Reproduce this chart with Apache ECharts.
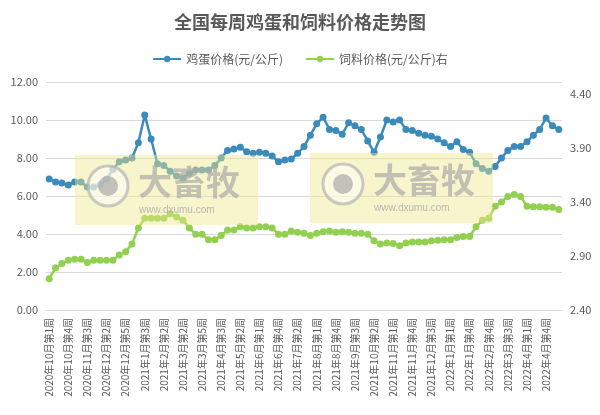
<!DOCTYPE html><html><head><meta charset="utf-8">
<script src="https://cdn.jsdelivr.net/npm/echarts@6/dist/echarts.min.js"></script>
<style>html,body{margin:0;padding:0;background:#fff}#c{width:600px;height:415px}</style></head><body><div id="c"></div>
<script>
const categories = [
'2020年10月第1周','2020年10月第2周','2020年10月第3周','2020年10月第4周',
'2020年11月第1周','2020年11月第2周','2020年11月第3周','2020年11月第4周',
'2020年12月第1周','2020年12月第2周','2020年12月第3周','2020年12月第4周','2020年12月第5周',
'2021年1月第1周','2021年1月第2周','2021年1月第3周','2021年1月第4周',
'2021年2月第1周','2021年2月第2周','2021年2月第3周',
'2021年3月第1周','2021年3月第2周','2021年3月第3周','2021年3月第4周','2021年3月第5周',
'2021年4月第1周','2021年4月第2周','2021年4月第3周','2021年4月第4周',
'2021年5月第1周','2021年5月第2周','2021年5月第3周','2021年5月第4周',
'2021年6月第1周','2021年6月第2周','2021年6月第3周','2021年6月第4周','2021年6月第5周',
'2021年7月第1周','2021年7月第2周','2021年7月第3周','2021年7月第4周',
'2021年8月第1周','2021年8月第2周','2021年8月第3周','2021年8月第4周',
'2021年9月第1周','2021年9月第2周','2021年9月第3周','2021年9月第4周',
'2021年10月第1周','2021年10月第2周','2021年10月第3周','2021年10月第4周',
'2021年11月第1周','2021年11月第2周','2021年11月第3周','2021年11月第4周',
'2021年12月第1周','2021年12月第2周','2021年12月第3周','2021年12月第4周','2021年12月第5周',
'2022年1月第1周','2022年1月第2周','2022年1月第3周','2022年1月第4周',
'2022年2月第2周','2022年2月第3周','2022年2月第4周',
'2022年3月第1周','2022年3月第2周','2022年3月第3周','2022年3月第4周','2022年3月第5周',
'2022年4月第1周','2022年4月第2周','2022年4月第3周','2022年4月第4周',
'2022年5月第1周','2022年5月第2周'];
const eggPrice = [6.9,6.74,6.68,6.58,6.74,6.74,6.47,6.47,6.58,6.89,7.4,7.8,7.9,8.0,8.8,10.26,9.0,7.7,7.6,7.3,7.05,6.95,7.2,7.37,7.37,7.37,7.6,8.0,8.4,8.47,8.57,8.33,8.25,8.3,8.25,8.1,7.8,7.9,7.95,8.25,8.6,9.2,9.8,
10.15,9.5,9.45,9.25,9.85,9.7,9.5,8.9,8.3,9.1,10.0,9.9,10.0,9.5,9.45,9.3,9.2,9.15,9.0,8.8,8.6,8.85,8.45,8.3,7.7,7.45,7.3,7.55,8.0,8.4,8.6,8.6,8.85,9.2,9.5,10.1,9.7,9.5];
const feedPrice = [2.69,2.79,2.83,2.86,2.87,2.87,2.84,2.86,2.86,2.86,2.86,2.91,2.94,3.01,3.16,3.25,3.25,3.25,3.25,3.29,3.26,3.23,3.16,3.10,3.10,3.05,3.05,3.09,3.14,3.14,3.17,3.16,3.16,3.17,3.17,3.16,3.10,3.10,3.13,3.12,3.11,3.09,3.11,
3.125,3.13,3.12,3.125,3.12,3.11,3.11,3.10,3.04,3.01,3.02,3.015,2.995,3.02,3.03,3.03,3.03,3.04,3.045,3.05,3.05,3.07,3.08,3.08,3.17,3.23,3.25,3.36,3.40,3.45,3.47,3.45,3.36,3.355,3.355,3.35,3.35,3.33];
const leftTicks = {min:0,max:12,interval:2};
const rightTicks = {min:2.4,max:4.51,interval:0.5};

const ch = echarts.init(document.getElementById('c'));
const font = '"Microsoft YaHei","Noto Sans CJK SC",sans-serif';
function mark(x,y){
  return [
    {type:'rect',shape:{x:x,y:y,width:183,height:70},style:{fill:'rgba(240,230,140,0.45)'},z:10},
    {type:'circle',shape:{cx:x+33,cy:y+31,r:20},style:{fill:'rgba(255,255,255,0.5)',stroke:'rgba(180,180,180,0.7)',lineWidth:3},z:10},
    {type:'circle',shape:{cx:x+33,cy:y+31,r:10},style:{fill:'rgba(170,170,170,0.7)'},z:10},
    {type:'text',x:x+63,y:y+10,style:{text:'大畜牧',font:'bold 34px '+font,fill:'rgba(170,170,170,0.7)'},z:10},
    {type:'text',x:x+64,y:y+50,style:{text:'www.dxumu.com',font:'10px sans-serif',fill:'rgba(170,170,170,0.8)'},z:10}
  ];
}
ch.setOption({
  animation:false,
  textStyle:{fontFamily:font},
  title:{text:'全国每周鸡蛋和饲料价格走势图',left:'center',top:8,textStyle:{fontSize:18,fontWeight:'bold',color:'#595959'}},
  legend:{top:48,left:'center',itemWidth:28,itemHeight:8,itemGap:22,textStyle:{color:'#595959',fontSize:12}},
  graphic:[...mark(75,155),...mark(310,153)],
  grid:{left:46,right:38,top:82,bottom:105},
  xAxis:{type:'category',data:categories,boundaryGap:true,
    axisLine:{lineStyle:{color:'#d9d9d9'}},axisTick:{show:false},
    axisLabel:{interval:2,rotate:90,color:'#595959',fontSize:10}},
  yAxis:[
    {type:'value',min:leftTicks.min,max:leftTicks.max,interval:leftTicks.interval,
     axisLabel:{color:'#595959',fontSize:11,formatter:v=>v.toFixed(2)},
     splitLine:{lineStyle:{color:'#d9d9d9'}},axisLine:{show:false},axisTick:{show:false}},
    {type:'value',min:rightTicks.min,max:rightTicks.max,interval:rightTicks.interval,
     axisLabel:{color:'#595959',fontSize:11,showMaxLabel:false,formatter:v=>v.toFixed(2)},
     splitLine:{show:false},axisLine:{show:false},axisTick:{show:false}}
  ],
  series:[
    {name:'鸡蛋价格(元/公斤)',type:'line',data:eggPrice,yAxisIndex:0,symbol:'circle',symbolSize:7,showAllSymbol:true,
     itemStyle:{color:'#3b8bba'},lineStyle:{color:'#3b8bba',width:2.5},z:3},
    {name:'饲料价格(元/公斤)右',type:'line',data:feedPrice,yAxisIndex:1,symbol:'circle',symbolSize:7,showAllSymbol:true,
     itemStyle:{color:'#92d050'},lineStyle:{color:'#92d050',width:2.5},z:3}
  ]
});
</script></body></html>
